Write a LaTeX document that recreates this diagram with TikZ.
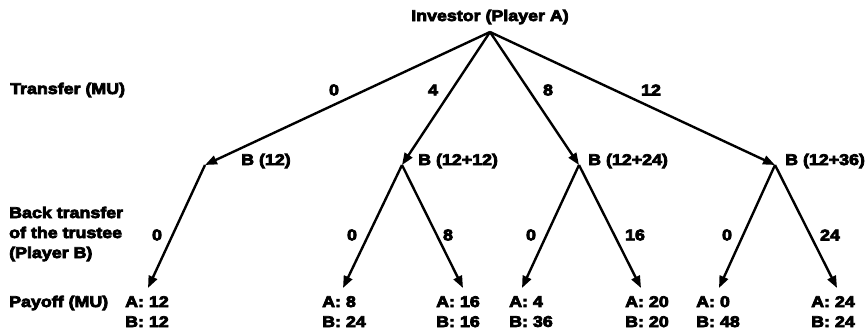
\documentclass[tikz,border=0pt]{standalone}
\usepackage{fontspec}
\newfontfamily\heavyfont{Liberation Sans}[UprightFont={* Bold},FakeStretch=1.15,FakeBold=5]
\usetikzlibrary{arrows.meta}
\begin{document}
\begin{tikzpicture}[x=1pt,y=-1pt,
  every node/.style={font=\fontsize{15.5}{20}\heavyfont, inner sep=0pt},
  edge/.style={line width=2.4pt, -{Triangle[length=12pt,width=9pt]}},
  lab/.style={anchor=center},
  leaf/.style={anchor=north west, align=left}]
\useasboundingbox (0,0) rectangle (866,331);
% row labels
\node[anchor=west] (rt) at (10,90) {Transfer (MU)};
\node[anchor=west, align=left] (rb) at (9,234) {Back transfer\\of the trustee\\(Player B)};
\node[anchor=west] (rp) at (9,303) {Payoff (MU)};
% root
\node (root) at (490,17) {Investor (Player A)};
\coordinate (A) at (490,32);
% trustee nodes
\coordinate (B1) at (205,165);
\coordinate (B2) at (402,165);
\coordinate (B3) at (579,165);
\coordinate (B4) at (775,165);
\node[anchor=west] (b1) at (241,161) {B (12)};
\node[anchor=west] (b2) at (418,161) {B (12+12)};
\node[anchor=west] (b3) at (588,161) {B (12+24)};
\node[anchor=west] (b4) at (785,161) {B (12+36)};
% leaves
\coordinate (L1) at (148,288);
\coordinate (L2) at (343,288);
\coordinate (L3) at (463,288);
\coordinate (L4) at (522,288);
\coordinate (L5) at (641,288);
\coordinate (L6) at (719,288);
\coordinate (L7) at (837,288);
\node[leaf] (p1) at (125,296) {A: 12\\B: 12};
\node[leaf] (p2) at (322,296) {A: 8\\B: 24};
\node[leaf] (p3) at (436,296) {A: 16\\B: 16};
\node[leaf] (p4) at (509,296) {A: 4\\B: 36};
\node[leaf] (p5) at (625,296) {A: 20\\B: 20};
\node[leaf] (p6) at (696,296) {A: 0\\B: 48};
\node[leaf] (p7) at (811,296) {A: 24\\B: 24};
% edges level 1
\draw[edge] (A) -- (B1);
\draw[edge] (A) -- (B2);
\draw[edge] (A) -- (B3);
\draw[edge] (A) -- (B4);
\node[lab] (t1) at (334,90) {0};
\node[lab] (t2) at (433,90) {4};
\node[lab] (t3) at (548,90) {8};
\node[lab] (t4) at (651,90) {12};
% edges level 2
\draw[edge] (B1) -- (L1);
\draw[edge] (B2) -- (L2);
\draw[edge] (B2) -- (L3);
\draw[edge] (B3) -- (L4);
\draw[edge] (B3) -- (L5);
\draw[edge] (B4) -- (L6);
\draw[edge] (B4) -- (L7);
\node[lab] (s1) at (157,235) {0};
\node[lab] (s2) at (352,235) {0};
\node[lab] (s3) at (448,235) {8};
\node[lab] (s4) at (531,235) {0};
\node[lab] (s5) at (635,235) {16};
\node[lab] (s6) at (727,235) {0};
\node[lab] (s7) at (830,235) {24};
\end{tikzpicture}
\end{document}
